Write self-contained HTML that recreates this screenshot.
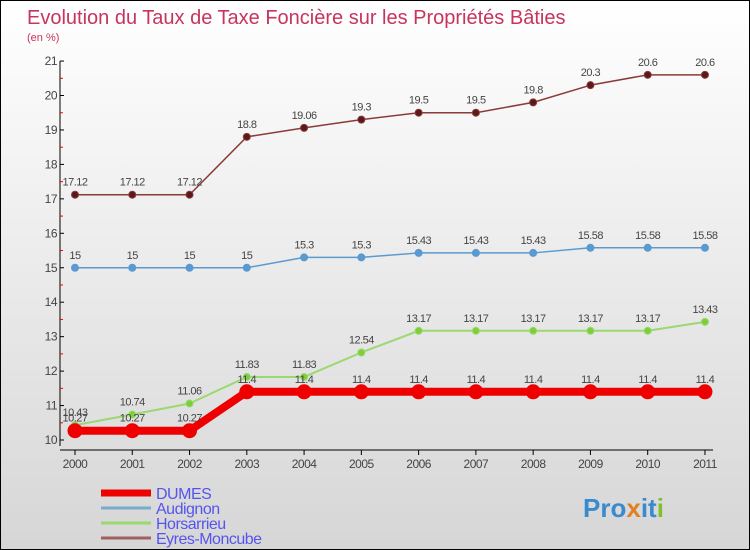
<!DOCTYPE html>
<html><head><meta charset="utf-8"><style>
html,body{margin:0;padding:0}
body{width:750px;height:550px;overflow:hidden;font-family:"Liberation Sans",sans-serif}
#wrap{position:relative;width:748px;height:548px;border:1px solid #000;background:linear-gradient(#ffffff,#d6d6d6)}
</style></head><body>
<div id="wrap">
<svg id="chart" width="748" height="548" style="position:absolute;left:0;top:0"></svg>
</div>
<script>
const years=[2000,2001,2002,2003,2004,2005,2006,2007,2008,2009,2010,2011];
const yTicks=[10,11,12,13,14,15,16,17,18,19,20,21];
const dumes=[10.27,10.27,10.27,11.4,11.4,11.4,11.4,11.4,11.4,11.4,11.4,11.4];
const audignon=[15,15,15,15,15.3,15.3,15.43,15.43,15.43,15.58,15.58,15.58];
const horsarrieu=[10.43,10.74,11.06,11.83,11.83,12.54,13.17,13.17,13.17,13.17,13.17,13.43];
const eyres=[17.12,17.12,17.12,18.8,19.06,19.3,19.5,19.5,19.8,20.3,20.6,20.6];
const NS="http://www.w3.org/2000/svg";
const svg=document.getElementById('chart');
const X=i=>74+i*57.27;
const Y=v=>439-(v-10)*34.45;
function mk(tag,attrs,parent){const e=document.createElementNS(NS,tag);for(const k in attrs)e.setAttribute(k,attrs[k]);(parent||svg).appendChild(e);return e;}
const title=mk('text',{x:26,y:23,'font-size':20,fill:'#c8345e'});
title.textContent='Evolution du Taux de Taxe Foncière sur les Propriétés Bâties';


const sub=mk('text',{x:26,y:40,'font-size':11,fill:'#c8345e'});
sub.textContent='(en %)';


const ya=mk('line',{x1:59,y1:60,x2:59,y2:445,stroke:'#000'});


const xa=mk('line',{x1:59,y1:449,x2:712,y2:449,stroke:'#000'});


yTicks.forEach(v=>{
  mk('line',{x1:59,y1:Y(v),x2:63,y2:Y(v),stroke:'#000'});
  if(v<21)mk('line',{x1:59,y1:Y(v+0.5),x2:62,y2:Y(v+0.5),stroke:'#e00'});
  const t=mk('text',{x:56,y:Y(v)+4,'font-size':12,fill:'#444','text-anchor':'end','letter-spacing':'-0.5'});
  t.textContent=v;
  
  
});
years.forEach((yr,i)=>{
  mk('line',{x1:X(i),y1:449,x2:X(i),y2:454,stroke:'#000'});
  const t=mk('text',{x:X(i),y:467,'font-size':12,fill:'#444','text-anchor':'middle','letter-spacing':'-0.5'});
  t.textContent=yr;
  
  
});
function series(vals,color,fill,w,r,name){
  const g=mk('g',{});
  
  
  mk('polyline',{points:vals.map((v,i)=>X(i)+','+Y(v)).join(' '),fill:'none',stroke:color,'stroke-width':w,'stroke-linejoin':'round'},g);
  vals.forEach((v,i)=>{
    const c=mk('circle',{cx:X(i),cy:Y(v),r:r,fill:fill,stroke:color,'stroke-width':1},g);
    
    
    const t=mk('text',{x:X(i),y:Y(v)-9,'font-size':11,fill:'#444','text-anchor':'middle','letter-spacing':'-0.5'},g);
    t.textContent=v;
    
    
  });
}
series(eyres,'#8b3a3a','#5a1a1a',1.5,3.5,'eyres-moncube');
series(audignon,'#5a9ad0','#5a9ad0',1.5,3.5,'audignon');
series(horsarrieu,'#9ad870','#7ccf3a',2,3.5,'horsarrieu');
series(dumes,'#ee0000','#ee0000',8,7,'dumes');
const leg=[['DUMES','#ee0000',7],['Audignon','#7aaacc',3],['Horsarrieu','#9ad870',3],['Eyres-Moncube','#a06060',3]];
leg.forEach((l,i)=>{
  const g=mk('g',{});
  
  
  const y=492+i*15;
  mk('line',{x1:100,y1:y,x2:150,y2:y,stroke:l[1],'stroke-width':l[2]},g);
  const t=mk('text',{x:155,y:y+6,'font-size':16,fill:'#5555ee','letter-spacing':'-0.5'},g);
  t.textContent=l[0];
});
const logo=mk('text',{x:582,y:516,'font-size':26,'font-weight':'bold'});


[['Pro','#3a8ad0'],['x','#e08020'],['it','#3a8ad0'],['i','#80c030']].forEach(p=>{const s=mk('tspan',{fill:p[1]},logo);s.textContent=p[0];});
</script>
</body></html>
